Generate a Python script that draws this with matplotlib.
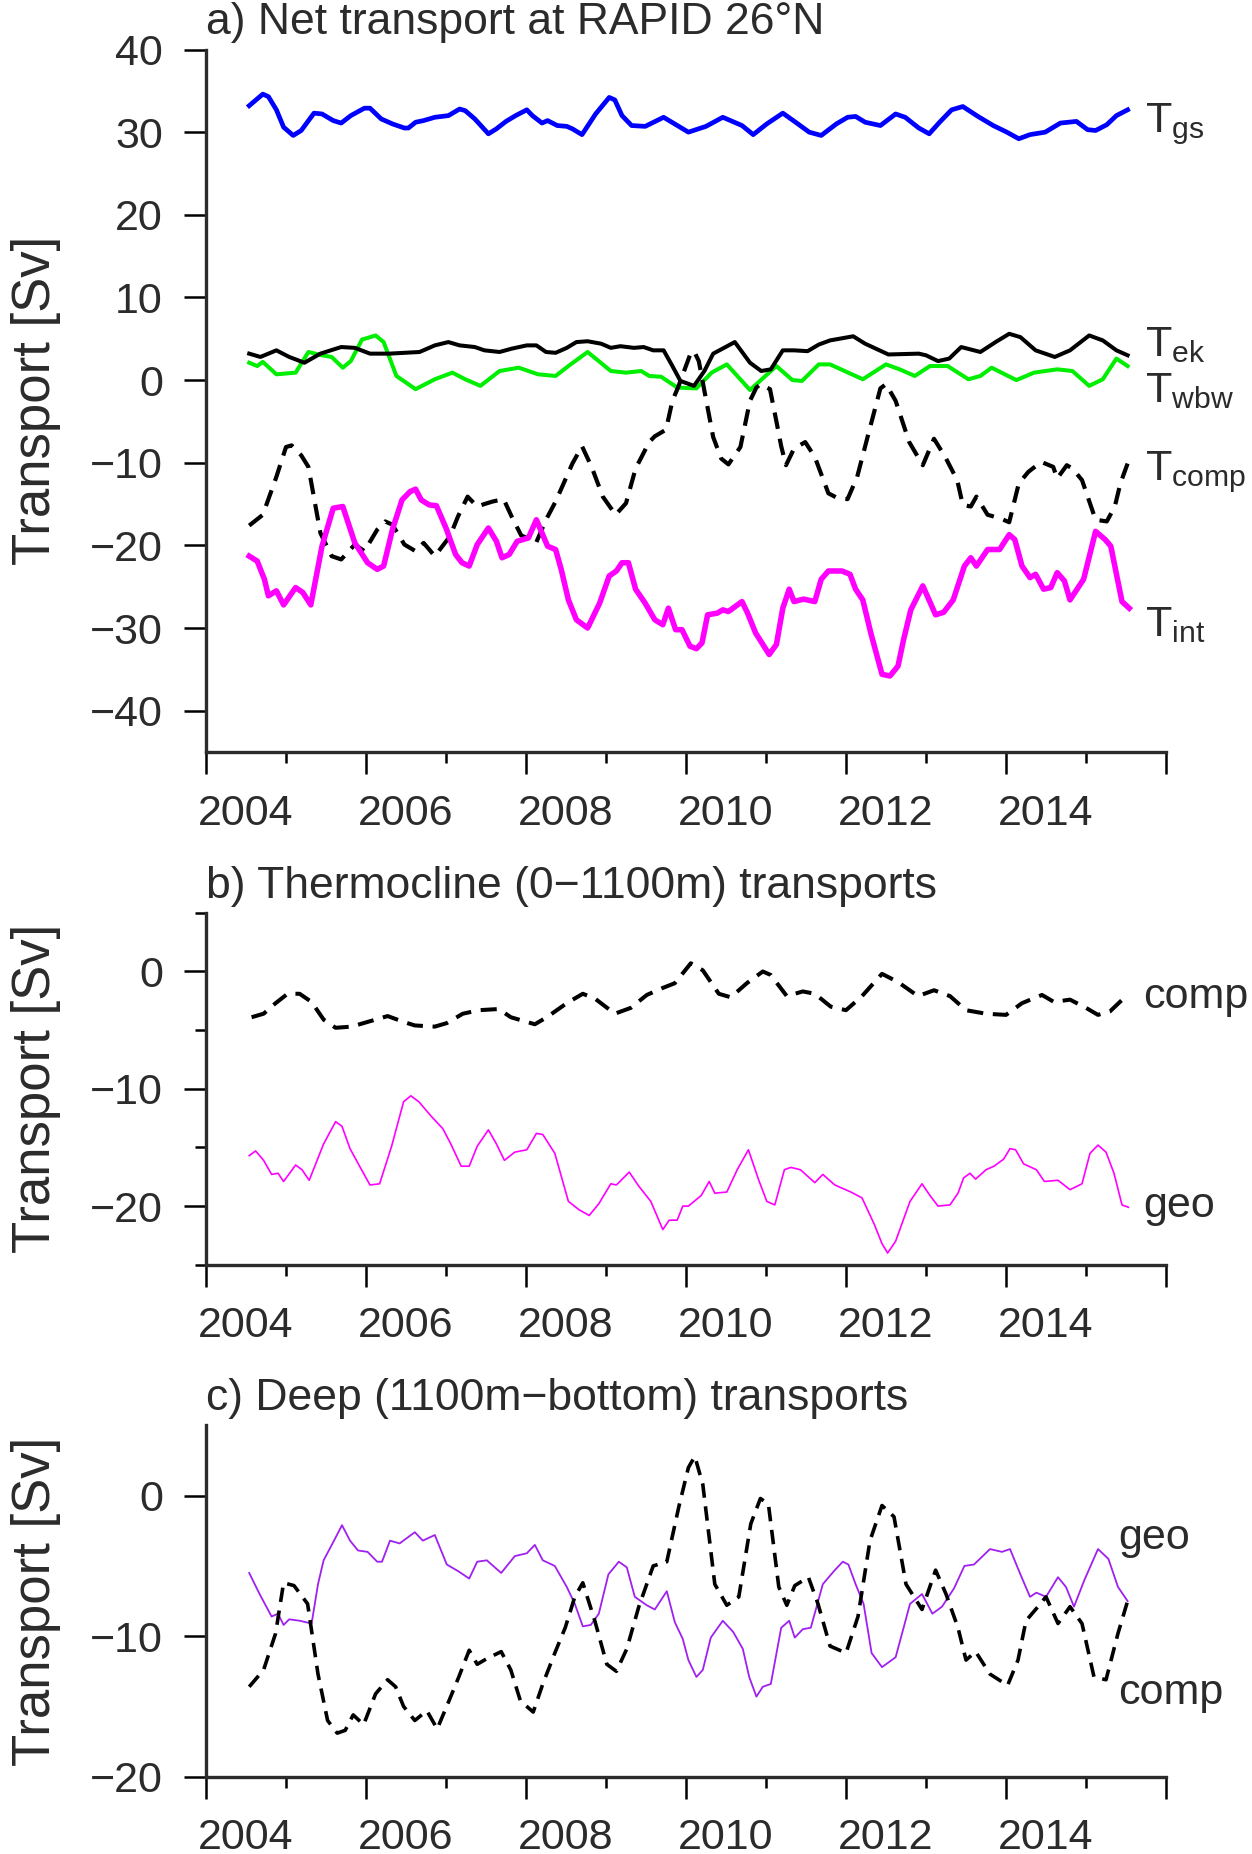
import numpy as np
import matplotlib
matplotlib.use('Agg')
import matplotlib.pyplot as plt
import matplotlib.transforms as mtransforms
from matplotlib.ticker import FixedLocator

plt.rcParams['font.family'] = ['Liberation Sans', 'DejaVu Sans']
plt.rcParams['mathtext.fontset'] = 'custom'
plt.rcParams['mathtext.rm'] = 'Liberation Sans'
plt.rcParams['mathtext.it'] = 'Liberation Sans'
plt.rcParams['mathtext.bf'] = 'Liberation Sans:bold'

TXT = '#2b2b2b'

# x axis
year_major = [2004, 2006, 2008, 2010, 2012, 2014, 2016]
year_labels = ['2004', '2006', '2008', '2010', '2012', '2014', '']
year_minor = [2005, 2007, 2009, 2011, 2013, 2015]

# panel a: (year, Sv)
t_gs = [(2004.54, 33.2), (2004.71, 34.6), (2004.78, 34.3), (2004.88, 32.7), (2004.97, 30.6), (2005.09, 29.6),
        (2005.19, 30.2), (2005.35, 32.3), (2005.45, 32.2), (2005.59, 31.4), (2005.69, 31.1), (2005.81, 32.0),
        (2005.98, 32.9), (2006.05, 32.9), (2006.19, 31.6), (2006.33, 31.0), (2006.48, 30.5), (2006.53, 30.5),
        (2006.62, 31.2), (2006.72, 31.4), (2006.86, 31.8), (2007.03, 32.0), (2007.17, 32.8), (2007.24, 32.6),
        (2007.36, 31.6), (2007.53, 29.8), (2007.63, 30.4), (2007.75, 31.3), (2007.87, 32.0), (2008.01, 32.7),
        (2008.08, 32.0), (2008.20, 31.1), (2008.27, 31.4), (2008.39, 30.8), (2008.51, 30.7), (2008.58, 30.4),
        (2008.70, 29.7), (2008.87, 32.2), (2009.04, 34.2), (2009.11, 33.9), (2009.20, 32.0), (2009.32, 30.8),
        (2009.49, 30.7), (2009.72, 31.8), (2010.03, 30.0), (2010.25, 30.7), (2010.46, 31.8), (2010.70, 30.8),
        (2010.84, 29.7), (2011.01, 31.0), (2011.21, 32.3), (2011.37, 31.2), (2011.54, 30.0), (2011.69, 29.6),
        (2011.88, 31.0), (2012.02, 31.8), (2012.12, 31.9), (2012.24, 31.2), (2012.43, 30.8), (2012.62, 32.2),
        (2012.74, 31.8), (2012.91, 30.5), (2013.04, 29.8), (2013.17, 31.2), (2013.32, 32.7), (2013.46, 33.1),
        (2013.65, 31.9), (2013.84, 30.8), (2014.01, 30.0), (2014.16, 29.2), (2014.30, 29.7), (2014.49, 30.0),
        (2014.68, 31.1), (2014.88, 31.3), (2015.02, 30.3), (2015.12, 30.2), (2015.26, 30.9), (2015.38, 32.0),
        (2015.52, 32.7)]

t_ek = [(2004.54, 3.2), (2004.68, 2.8), (2004.88, 3.6), (2005.04, 2.8), (2005.23, 2.1), (2005.43, 3.2),
        (2005.69, 4.0), (2005.86, 3.9), (2006.05, 3.2), (2006.29, 3.2), (2006.67, 3.4), (2006.86, 4.2),
        (2007.03, 4.6), (2007.17, 4.2), (2007.36, 4.0), (2007.48, 3.6), (2007.67, 3.4), (2007.82, 3.8),
        (2008.01, 4.2), (2008.13, 4.2), (2008.25, 3.4), (2008.37, 3.3), (2008.51, 3.9), (2008.63, 4.6),
        (2008.77, 4.7), (2008.94, 4.4), (2009.06, 3.9), (2009.18, 4.1), (2009.35, 3.9), (2009.47, 4.0),
        (2009.59, 3.6), (2009.72, 3.6), (2009.83, 1.7), (2009.93, -0.1), (2010.10, -0.7), (2010.23, 1.1),
        (2010.34, 3.2), (2010.61, 4.6), (2010.80, 2.1), (2010.94, 1.1), (2011.06, 1.3), (2011.21, 3.6),
        (2011.35, 3.6), (2011.52, 3.5), (2011.66, 4.3), (2011.80, 4.8), (2012.09, 5.3), (2012.24, 4.4),
        (2012.53, 3.1), (2012.91, 3.2), (2013.00, 3.0), (2013.15, 2.3), (2013.29, 2.6), (2013.44, 4.0),
        (2013.68, 3.4), (2013.87, 4.6), (2014.04, 5.6), (2014.18, 5.2), (2014.37, 3.6), (2014.61, 2.8),
        (2014.80, 3.6), (2015.04, 5.4), (2015.21, 4.8), (2015.38, 3.6), (2015.52, 3.0)]

t_wbw = [(2004.54, 2.1), (2004.64, 1.7), (2004.71, 2.2), (2004.88, 0.7), (2005.12, 0.9), (2005.28, 3.4),
         (2005.45, 3.0), (2005.57, 2.8), (2005.71, 1.5), (2005.81, 2.3), (2005.95, 4.9), (2006.12, 5.4),
         (2006.22, 4.6), (2006.38, 0.5), (2006.62, -1.1), (2006.86, 0.1), (2007.08, 0.9), (2007.24, 0.1),
         (2007.43, -0.7), (2007.67, 1.1), (2007.91, 1.5), (2008.15, 0.7), (2008.37, 0.5), (2008.53, 1.7),
         (2008.77, 3.4), (2009.06, 1.1), (2009.25, 0.9), (2009.44, 1.1), (2009.54, 0.5), (2009.69, 0.4),
         (2009.89, -0.9), (2010.13, -1.0), (2010.32, 0.9), (2010.51, 1.9), (2010.80, -1.2), (2010.97, 0.3),
         (2011.13, 1.7), (2011.33, 0.0), (2011.45, -0.1), (2011.66, 1.9), (2011.80, 1.9), (2012.21, 0.1),
         (2012.50, 1.9), (2012.67, 1.3), (2012.86, 0.5), (2013.05, 1.7), (2013.27, 1.7), (2013.53, 0.1),
         (2013.68, 0.5), (2013.82, 1.5), (2014.13, 0.0), (2014.35, 0.9), (2014.64, 1.3), (2014.83, 1.1),
         (2015.04, -0.7), (2015.21, 0.1), (2015.38, 2.6), (2015.52, 1.7)]

t_comp = [(2004.54, -17.6), (2004.71, -16.3), (2004.88, -11.7), (2005.00, -8.1), (2005.07, -7.9), (2005.19, -9.1),
          (2005.28, -10.5), (2005.43, -18.5), (2005.57, -21.3), (2005.69, -21.7), (2005.86, -19.9), (2005.98, -20.7),
          (2006.14, -18.1), (2006.24, -17.1), (2006.33, -17.5), (2006.48, -19.9), (2006.62, -20.7), (2006.72, -19.7),
          (2006.86, -21.3), (2007.05, -18.9), (2007.15, -16.5), (2007.27, -14.1), (2007.39, -15.3), (2007.48, -15.0),
          (2007.58, -14.7), (2007.72, -14.4), (2007.82, -16.5), (2007.94, -18.8), (2008.13, -19.6), (2008.25, -16.9),
          (2008.37, -14.7), (2008.58, -10.1), (2008.70, -8.0), (2008.82, -10.5), (2008.96, -14.1), (2009.12, -16.3),
          (2009.25, -14.9), (2009.37, -10.7), (2009.54, -7.5), (2009.61, -6.8), (2009.75, -6.0), (2009.83, -2.5),
          (2009.90, -0.9), (2010.06, 3.3), (2010.10, 3.5), (2010.16, 2.3), (2010.23, -1.3), (2010.34, -6.9),
          (2010.44, -9.5), (2010.53, -10.2), (2010.68, -8.1), (2010.80, -2.5), (2010.88, -0.9), (2010.93, -0.5),
          (2011.05, -1.1), (2011.13, -5.0), (2011.19, -8.0), (2011.25, -10.3), (2011.35, -8.3), (2011.49, -7.5),
          (2011.61, -9.3), (2011.78, -13.7), (2011.90, -14.3), (2012.02, -14.4), (2012.14, -11.7), (2012.28, -6.5),
          (2012.43, -1.0), (2012.50, -0.5), (2012.62, -2.5), (2012.79, -7.5), (2012.96, -10.3), (2013.10, -7.1),
          (2013.24, -9.3), (2013.39, -12.1), (2013.46, -15.1), (2013.56, -15.3), (2013.63, -14.1), (2013.77, -16.3),
          (2013.92, -16.7), (2014.04, -17.2), (2014.16, -12.5), (2014.28, -11.1), (2014.44, -9.9), (2014.59, -10.5),
          (2014.64, -11.9), (2014.76, -10.3), (2014.83, -10.7), (2014.95, -12.1), (2015.12, -16.9), (2015.26, -17.1),
          (2015.36, -15.3), (2015.43, -12.5), (2015.52, -10.1)]

t_int = [(2004.54, -21.3), (2004.64, -21.9), (2004.73, -24.1), (2004.78, -26.1), (2004.88, -25.5), (2004.97, -27.2),
         (2005.12, -25.1), (2005.21, -25.7), (2005.31, -27.2), (2005.45, -20.1), (2005.59, -15.5), (2005.71, -15.3),
         (2005.86, -19.7), (2006.02, -22.1), (2006.14, -22.9), (2006.22, -22.5), (2006.33, -18.1), (2006.45, -14.5),
         (2006.55, -13.5), (2006.62, -13.2), (2006.69, -14.5), (2006.79, -15.1), (2006.88, -15.2), (2007.00, -17.9),
         (2007.12, -21.1), (2007.20, -22.1), (2007.29, -22.5), (2007.39, -19.9), (2007.53, -17.9), (2007.63, -19.5),
         (2007.70, -21.5), (2007.79, -21.1), (2007.89, -19.5), (2008.03, -19.1), (2008.13, -16.9), (2008.27, -20.1),
         (2008.37, -20.5), (2008.44, -22.9), (2008.53, -26.6), (2008.63, -29.0), (2008.77, -30.0), (2008.92, -27.0),
         (2009.04, -23.7), (2009.13, -23.1), (2009.20, -22.1), (2009.28, -22.1), (2009.37, -25.3), (2009.49, -27.0),
         (2009.61, -29.0), (2009.71, -29.6), (2009.78, -27.6), (2009.87, -30.2), (2009.95, -30.2), (2010.05, -32.2),
         (2010.13, -32.5), (2010.20, -31.8), (2010.27, -28.4), (2010.39, -28.2), (2010.46, -27.8), (2010.53, -28.0),
         (2010.70, -26.8), (2010.77, -28.2), (2010.87, -30.6), (2011.04, -33.2), (2011.13, -32.0), (2011.21, -27.6),
         (2011.29, -25.3), (2011.35, -26.8), (2011.47, -26.5), (2011.61, -26.8), (2011.69, -24.1), (2011.78, -23.1),
         (2011.95, -23.1), (2012.05, -23.5), (2012.12, -25.3), (2012.21, -26.6), (2012.31, -30.6), (2012.45, -35.6),
         (2012.55, -35.8), (2012.65, -34.6), (2012.72, -31.4), (2012.81, -27.8), (2012.96, -24.9), (2013.12, -28.4),
         (2013.22, -28.1), (2013.34, -26.6), (2013.48, -22.5), (2013.56, -21.5), (2013.63, -22.5), (2013.77, -20.5),
         (2013.92, -20.5), (2014.04, -18.7), (2014.11, -19.3), (2014.20, -22.5), (2014.30, -23.9), (2014.37, -23.5),
         (2014.47, -25.3), (2014.56, -25.1), (2014.64, -23.3), (2014.73, -24.3), (2014.80, -26.6), (2014.97, -24.1),
         (2015.12, -18.3), (2015.24, -19.3), (2015.31, -20.1), (2015.45, -26.8), (2015.54, -27.6)]

# panel b: thermocline
thermo_comp = [(2004.57, -3.9), (2004.72, -3.6), (2004.87, -2.7), (2005.02, -1.9), (2005.17, -1.9), (2005.32, -2.6),
               (2005.47, -4.1), (2005.62, -4.8), (2005.82, -4.7), (2006.02, -4.3), (2006.27, -3.8), (2006.47, -4.3),
               (2006.61, -4.6), (2006.86, -4.7), (2007.01, -4.4), (2007.21, -3.6), (2007.41, -3.3), (2007.66, -3.2),
               (2007.81, -3.9), (2008.11, -4.5), (2008.26, -3.9), (2008.51, -2.7), (2008.71, -1.9), (2008.86, -2.3),
               (2009.11, -3.6), (2009.31, -3.1), (2009.51, -2.0), (2009.71, -1.4), (2009.86, -1.0), (2010.06, 0.7),
               (2010.21, 0.1), (2010.41, -1.9), (2010.56, -2.2), (2010.76, -1.0), (2010.96, 0.0), (2011.06, -0.3),
               (2011.26, -2.1), (2011.46, -1.7), (2011.61, -1.9), (2011.81, -3.0), (2012.00, -3.3), (2012.20, -2.1),
               (2012.45, -0.2), (2012.65, -0.9), (2012.90, -2.1), (2013.10, -1.6), (2013.30, -2.1), (2013.50, -3.3),
               (2013.75, -3.6), (2014.00, -3.7), (2014.20, -2.7), (2014.45, -2.0), (2014.60, -2.6), (2014.80, -2.4),
               (2015.00, -3.1), (2015.15, -3.7), (2015.30, -3.4), (2015.50, -2.1)]

thermo_geo = [(2004.54, -15.7), (2004.62, -15.3), (2004.72, -16.1), (2004.82, -17.3), (2004.90, -17.2), (2004.97, -17.9),
              (2005.12, -16.5), (2005.20, -16.9), (2005.29, -17.8), (2005.47, -14.7), (2005.62, -12.8), (2005.70, -13.2),
              (2005.80, -15.1), (2005.92, -16.6), (2006.05, -18.2), (2006.17, -18.1), (2006.32, -14.9), (2006.47, -11.1),
              (2006.56, -10.6), (2006.66, -11.1), (2006.81, -12.3), (2006.96, -13.4), (2007.06, -14.7), (2007.19, -16.6),
              (2007.29, -16.6), (2007.39, -14.9), (2007.53, -13.5), (2007.63, -14.7), (2007.73, -16.1), (2007.86, -15.4),
              (2008.01, -15.2), (2008.13, -13.8), (2008.21, -13.9), (2008.36, -15.5), (2008.53, -19.6), (2008.66, -20.3),
              (2008.79, -20.8), (2008.91, -19.8), (2009.06, -18.1), (2009.13, -18.2), (2009.29, -17.1), (2009.41, -18.3),
              (2009.56, -19.6), (2009.71, -22.0), (2009.79, -21.2), (2009.89, -21.2), (2009.96, -20.0), (2010.03, -20.0),
              (2010.19, -19.1), (2010.29, -17.9), (2010.36, -18.9), (2010.51, -18.8), (2010.64, -16.9), (2010.78, -15.2),
              (2010.91, -17.8), (2011.01, -19.6), (2011.11, -19.9), (2011.23, -16.9), (2011.31, -16.7), (2011.43, -16.9),
              (2011.61, -18.0), (2011.71, -17.3), (2011.86, -18.2), (2012.06, -18.8), (2012.20, -19.3), (2012.35, -21.5),
              (2012.45, -23.2), (2012.52, -24.0), (2012.62, -23.0), (2012.80, -19.6), (2012.95, -18.1), (2013.05, -19.1),
              (2013.15, -20.0), (2013.30, -19.9), (2013.40, -18.9), (2013.47, -17.6), (2013.55, -17.2), (2013.62, -17.7),
              (2013.75, -16.9), (2013.85, -16.6), (2013.97, -16.0), (2014.05, -15.1), (2014.12, -15.2), (2014.22, -16.4),
              (2014.38, -16.9), (2014.48, -17.9), (2014.65, -17.8), (2014.80, -18.6), (2014.95, -18.1), (2015.05, -15.5),
              (2015.15, -14.8), (2015.25, -15.4), (2015.35, -17.2), (2015.45, -19.9), (2015.53, -20.1)]

# panel c: deep
deep_comp = [(2004.54, -13.6), (2004.72, -12.4), (2004.87, -9.8), (2004.97, -6.2), (2005.10, -6.4), (2005.27, -7.7),
             (2005.40, -12.7), (2005.52, -16.0), (2005.64, -16.9), (2005.74, -16.7), (2005.84, -15.6), (2005.97, -16.3),
             (2006.12, -14.1), (2006.27, -13.1), (2006.37, -13.6), (2006.47, -15.0), (2006.61, -16.0), (2006.76, -15.3),
             (2006.89, -16.6), (2007.03, -14.7), (2007.16, -12.9), (2007.29, -11.0), (2007.39, -12.0), (2007.51, -11.6),
             (2007.69, -11.1), (2007.81, -12.4), (2007.93, -14.6), (2008.09, -15.4), (2008.21, -13.4), (2008.36, -11.2),
             (2008.49, -9.4), (2008.61, -7.2), (2008.71, -6.2), (2008.86, -8.9), (2009.01, -12.0), (2009.13, -12.5),
             (2009.26, -10.9), (2009.41, -7.9), (2009.59, -5.0), (2009.76, -4.7), (2009.91, -0.8), (2010.03, 2.0),
             (2010.11, 2.8), (2010.21, 0.8), (2010.36, -6.3), (2010.51, -7.8), (2010.66, -7.2), (2010.81, -2.0),
             (2010.93, -0.2), (2011.03, -0.6), (2011.16, -6.5), (2011.26, -7.8), (2011.36, -6.4), (2011.53, -5.8),
             (2011.65, -7.7), (2011.80, -10.7), (2012.00, -11.2), (2012.15, -8.6), (2012.30, -3.2), (2012.45, -0.7),
             (2012.60, -1.5), (2012.75, -6.3), (2012.95, -8.1), (2013.12, -5.3), (2013.25, -7.0), (2013.40, -9.4),
             (2013.50, -11.7), (2013.62, -11.1), (2013.80, -12.7), (2014.02, -13.5), (2014.15, -11.7), (2014.25, -8.9),
             (2014.40, -7.9), (2014.50, -7.2), (2014.65, -9.1), (2014.80, -7.9), (2014.95, -9.1), (2015.10, -12.9),
             (2015.25, -13.1), (2015.40, -9.8), (2015.52, -7.5)]

deep_geo = [(2004.54, -5.5), (2004.67, -7.0), (2004.82, -8.6), (2004.90, -8.4), (2004.97, -9.2), (2005.04, -8.8),
            (2005.17, -8.9), (2005.32, -9.1), (2005.40, -6.3), (2005.47, -4.6), (2005.60, -3.2), (2005.70, -2.1),
            (2005.80, -3.2), (2005.90, -3.9), (2006.02, -4.0), (2006.14, -4.7), (2006.20, -4.7), (2006.30, -3.2),
            (2006.42, -3.4), (2006.61, -2.6), (2006.71, -3.2), (2006.86, -2.8), (2007.01, -4.9), (2007.16, -5.4),
            (2007.29, -5.9), (2007.39, -4.7), (2007.51, -4.6), (2007.69, -5.5), (2007.86, -4.3), (2008.01, -4.1),
            (2008.11, -3.5), (2008.21, -4.6), (2008.36, -5.0), (2008.51, -6.5), (2008.61, -7.7), (2008.71, -9.3),
            (2008.81, -9.2), (2008.91, -8.4), (2009.03, -5.6), (2009.16, -4.7), (2009.26, -5.1), (2009.36, -7.2),
            (2009.51, -7.8), (2009.61, -8.1), (2009.76, -6.8), (2009.86, -9.0), (2009.96, -10.2), (2010.03, -11.7),
            (2010.13, -12.9), (2010.21, -12.4), (2010.31, -10.1), (2010.46, -8.9), (2010.59, -9.7), (2010.71, -10.9),
            (2010.79, -12.9), (2010.88, -14.3), (2010.96, -13.6), (2011.06, -13.4), (2011.19, -9.4), (2011.29, -8.9),
            (2011.36, -10.1), (2011.46, -9.5), (2011.56, -9.4), (2011.71, -6.3), (2011.86, -5.3), (2011.96, -4.7),
            (2012.03, -4.9), (2012.12, -6.3), (2012.22, -7.7), (2012.32, -11.2), (2012.45, -12.2), (2012.62, -11.5),
            (2012.72, -9.4), (2012.80, -7.7), (2012.95, -7.0), (2013.08, -8.4), (2013.20, -7.9), (2013.35, -6.6),
            (2013.48, -5.0), (2013.60, -4.9), (2013.80, -3.8), (2013.95, -4.0), (2014.05, -3.8), (2014.18, -5.6),
            (2014.30, -7.2), (2014.38, -6.9), (2014.50, -7.2), (2014.65, -5.8), (2014.75, -6.5), (2014.85, -7.9),
            (2014.98, -6.0), (2015.15, -3.8), (2015.28, -4.5), (2015.40, -6.5), (2015.52, -7.5)]


def xy(pairs):
    a = np.array(pairs)
    return a[:, 0], a[:, 1]


fig = plt.figure(figsize=(12.52, 18.54), dpi=100)
ax_a = fig.add_axes([0.16454, 0.59439, 0.76677, 0.37891])
ax_b = fig.add_axes([0.16454, 0.31783, 0.76677, 0.18981])
ax_c = fig.add_axes([0.16454, 0.04169, 0.76677, 0.18948])


def style_axis(ax, ylim, yticks, yminor=None):
    ax.set_xlim(2004, 2016)
    ax.set_ylim(*ylim)
    for s in ['top', 'right']:
        ax.spines[s].set_visible(False)
    for s in ['left', 'bottom']:
        ax.spines[s].set_color(TXT)
        ax.spines[s].set_linewidth(2.4)
    ax.xaxis.set_major_locator(FixedLocator(year_major))
    ax.set_xticklabels(year_labels)
    ax.xaxis.set_minor_locator(FixedLocator(year_minor))
    ax.set_yticks(yticks)
    if yminor:
        ax.yaxis.set_minor_locator(FixedLocator(yminor))
    ax.tick_params(which='major', direction='out', length=16, width=1.8, color='black',
                   labelsize=31, labelcolor=TXT)
    ax.tick_params(which='minor', direction='out', length=8, width=1.8, color='black')
    ax.tick_params(axis='x', which='major', pad=14)
    ax.tick_params(axis='y', which='major', pad=15)
    # year labels sit in the middle of the year
    shift = mtransforms.ScaledTranslation(0.4, 0, fig.dpi_scale_trans)
    for lab in ax.get_xticklabels():
        lab.set_transform(lab.get_transform() + shift)
    ax.set_ylabel('Transport [Sv]', fontsize=38, color=TXT)
    ax.yaxis.set_label_coords(-0.151, 0.5)


# a) net transport
x, y = xy(t_gs)
ax_a.plot(x, y, color='#0000FF', lw=3.4)
x, y = xy(t_wbw)
ax_a.plot(x, y, color='#00EE00', lw=2.9)
x, y = xy(t_ek)
ax_a.plot(x, y, color='black', lw=2.9)
x, y = xy(t_comp)
ax_a.plot(x, y, color='black', lw=3.0, dashes=(4, 2.4))
x, y = xy(t_int)
ax_a.plot(x, y, color='#FF00FF', lw=4.0)
style_axis(ax_a, (-45, 40), [-40, -30, -20, -10, 0, 10, 20, 30, 40])
ax_a.set_title('a) Net transport at RAPID 26°N', loc='left', pad=11, fontsize=32, color=TXT)
ax_a.text(2015.74, 30.0, r'T$_{\mathrm{gs}}$', fontsize=31, color=TXT)
ax_a.text(2015.74, 2.95, r'T$_{\mathrm{ek}}$', fontsize=31, color=TXT)
ax_a.text(2015.74, -2.7, r'T$_{\mathrm{wbw}}$', fontsize=31, color=TXT)
ax_a.text(2015.74, -12.1, r'T$_{\mathrm{comp}}$', fontsize=31, color=TXT)
ax_a.text(2015.74, -31.0, r'T$_{\mathrm{int}}$', fontsize=31, color=TXT)

# b) thermocline
x, y = xy(thermo_comp)
ax_b.plot(x, y, color='black', lw=2.9, dashes=(4, 2.4))
x, y = xy(thermo_geo)
ax_b.plot(x, y, color='#FF00FF', lw=1.2)
style_axis(ax_b, (-25, 5), [-20, -10, 0], [-25, -15, -5, 5])
ax_b.set_title('b) Thermocline (0\u22121100m) transports', loc='left', pad=11, fontsize=32, color=TXT)
ax_b.text(2015.72, -3.1, 'comp', fontsize=31, color=TXT)
ax_b.text(2015.72, -20.9, 'geo', fontsize=31, color=TXT)

# c) deep
x, y = xy(deep_geo)
ax_c.plot(x, y, color='#A020F0', lw=1.3)
x, y = xy(deep_comp)
ax_c.plot(x, y, color='black', lw=2.6, dashes=(4, 2.4))
style_axis(ax_c, (-20, 5), [-20, -10, 0])
ax_c.set_title('c) Deep (1100m\u2212bottom) transports', loc='left', pad=11, fontsize=32, color=TXT)
ax_c.text(2015.40, -3.8, 'geo', fontsize=31, color=TXT)
ax_c.text(2015.40, -14.8, 'comp', fontsize=31, color=TXT)

fig.savefig('out.png', dpi=100)
